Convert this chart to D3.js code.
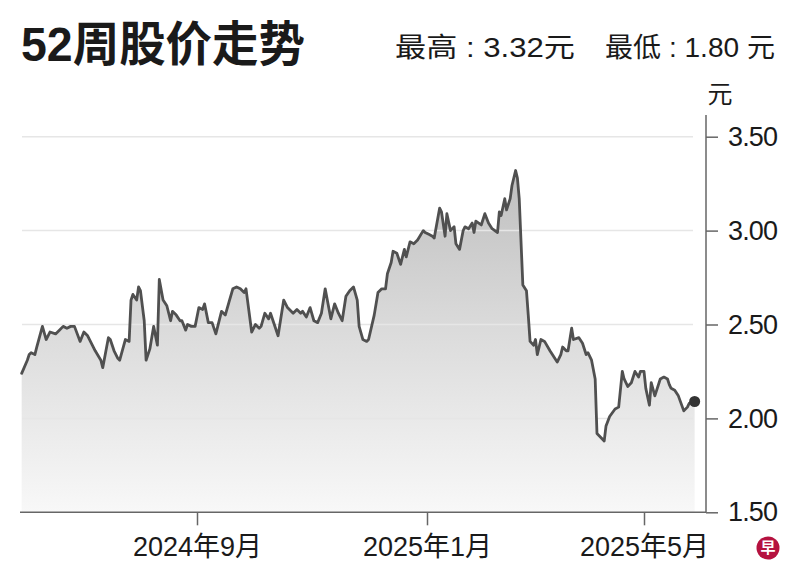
<!DOCTYPE html>
<html><head><meta charset="utf-8">
<script src="https://cdn.jsdelivr.net/npm/d3@7"></script>
<style>
html,body{margin:0;padding:0;background:#fff;}
svg{display:block;}
text{font-family:"Liberation Sans","Noto Sans CJK SC",sans-serif;fill:#1a1a1a;}
</style></head><body>
<svg id="chart" width="800" height="573"></svg>
<script>
const dates = [
"2024-05-31","2024-06-03","2024-06-04","2024-06-05","2024-06-07","2024-06-08","2024-06-11","2024-06-13","2024-06-15","2024-06-18",
"2024-06-20","2024-06-22","2024-06-24","2024-06-26","2024-06-28","2024-07-01","2024-07-03","2024-07-05","2024-07-07","2024-07-09",
"2024-07-12","2024-07-13","2024-07-16","2024-07-17","2024-07-19","2024-07-21","2024-07-22","2024-07-25","2024-07-27","2024-07-28",
"2024-07-29","2024-07-31","2024-08-01","2024-08-02","2024-08-04","2024-08-05","2024-08-07","2024-08-09","2024-08-11","2024-08-12",
"2024-08-14","2024-08-16","2024-08-18","2024-08-19","2024-08-21","2024-08-23","2024-08-24","2024-08-26","2024-08-27","2024-08-29",
"2024-08-31","2024-09-02","2024-09-04","2024-09-05","2024-09-07","2024-09-09","2024-09-11","2024-09-14","2024-09-16","2024-09-18",
"2024-09-20","2024-09-22","2024-09-24","2024-09-26","2024-09-27","2024-09-30","2024-10-02","2024-10-04","2024-10-05","2024-10-07",
"2024-10-09","2024-10-10","2024-10-12","2024-10-14","2024-10-17","2024-10-19","2024-10-22","2024-10-24","2024-10-26","2024-10-27",
"2024-10-29","2024-10-31","2024-11-02","2024-11-04","2024-11-06","2024-11-08","2024-11-11","2024-11-13","2024-11-15","2024-11-17",
"2024-11-19","2024-11-21","2024-11-23","2024-11-25","2024-11-26","2024-11-28","2024-11-30","2024-12-01","2024-12-04","2024-12-06",
"2024-12-08","2024-12-10","2024-12-11","2024-12-13","2024-12-14","2024-12-16","2024-12-17","2024-12-18","2024-12-20","2024-12-21",
"2024-12-23","2024-12-25","2024-12-27","2024-12-30","2024-12-31","2025-01-02","2025-01-04","2025-01-05","2025-01-08","2025-01-09",
"2025-01-11","2025-01-12","2025-01-14","2025-01-16","2025-01-17","2025-01-19","2025-01-21","2025-01-22","2025-01-24","2025-01-26",
"2025-01-27","2025-01-28","2025-01-31","2025-02-02","2025-02-04","2025-02-06","2025-02-09","2025-02-10","2025-02-11","2025-02-13",
"2025-02-14","2025-02-16","2025-02-17","2025-02-19","2025-02-20","2025-02-21","2025-02-23","2025-02-25","2025-02-26","2025-02-27",
"2025-03-01","2025-03-02","2025-03-03","2025-03-05","2025-03-07","2025-03-10","2025-03-14","2025-03-16","2025-03-17","2025-03-19",
"2025-03-20","2025-03-22","2025-03-23","2025-03-26","2025-03-28","2025-03-30","2025-03-31","2025-04-02","2025-04-04","2025-04-05",
"2025-04-07","2025-04-09","2025-04-10","2025-04-12","2025-04-15","2025-04-17","2025-04-19","2025-04-20","2025-04-22","2025-04-24",
"2025-04-26","2025-04-28","2025-04-29","2025-05-01","2025-05-02","2025-05-04","2025-05-05","2025-05-07","2025-05-10","2025-05-12",
"2025-05-14","2025-05-15","2025-05-16","2025-05-18","2025-05-20","2025-05-23","2025-05-25","2025-05-26","2025-05-29"
];
const prices = [
2.24,2.31,2.34,2.35,2.34,2.38,2.49,2.42,2.46,2.45,
2.47,2.49,2.48,2.49,2.49,2.41,2.46,2.44,2.40,2.36,
2.31,2.27,2.43,2.42,2.36,2.32,2.31,2.42,2.41,2.63,
2.66,2.63,2.70,2.68,2.52,2.31,2.37,2.49,2.39,2.74,
2.63,2.60,2.52,2.57,2.55,2.52,2.52,2.47,2.50,2.49,
2.49,2.59,2.58,2.61,2.51,2.51,2.45,2.57,2.55,2.62,
2.69,2.70,2.69,2.67,2.69,2.46,2.50,2.48,2.49,2.56,
2.53,2.56,2.50,2.44,2.63,2.59,2.56,2.58,2.56,2.57,
2.54,2.59,2.52,2.51,2.56,2.69,2.53,2.61,2.56,2.52,
2.65,2.68,2.70,2.63,2.49,2.42,2.41,2.42,2.55,2.67,
2.69,2.69,2.77,2.83,2.89,2.88,2.85,2.82,2.90,2.86,
2.94,2.93,2.95,3.00,2.99,2.98,2.97,2.96,3.12,3.10,
2.97,3.09,3.00,3.02,2.93,2.90,3.00,3.02,3.01,3.04,
2.99,3.05,3.03,3.09,3.04,3.01,2.99,3.10,3.08,3.17,
3.11,3.17,3.24,3.32,3.28,3.17,2.71,2.68,2.55,2.41,
2.39,2.42,2.34,2.42,2.41,2.36,2.30,2.34,2.38,2.36,
2.36,2.48,2.42,2.43,2.40,2.34,2.35,2.31,2.21,1.92,
1.90,1.88,1.96,2.01,2.05,2.06,2.25,2.21,2.17,2.19,
2.25,2.22,2.25,2.25,2.16,2.07,2.19,2.12,2.21,2.22,
2.21,2.18,2.16,2.15,2.12,2.04,2.06,2.08,2.09
];
const yTicks = [1.5, 2.0, 2.5, 3.0, 3.5];
const gridValues = [2.0, 2.5, 3.0, 3.5];
const xTickDates = ["2024-09-01","2025-01-01","2025-05-01"];
const xTickLabels = ["2024年9月","2025年1月","2025年5月"];
const titleText = "52周股价走势";
const highText = "最高 : 3.32元";
const lowText = "最低 : 1.80 元";
const unitText = "元";

const parse = d3.timeParse("%Y-%m-%d");
const data = dates.map((d,i)=>({date:parse(d), value:prices[i]}));

const svg = d3.select("#chart");
const plotLeft = 22, gridRight = 693, axisX = 706, yTop = 136.7, yBottom = 512.3;

const x = d3.scaleTime()
  .domain(xTickDates.map(parse))
  .range([197, 427, 644]);
const y = d3.scaleLinear().domain([1.5, 3.5]).range([yBottom, yTop]);

// gradient
const defs = svg.append("defs");
const grad = defs.append("linearGradient").attr("id","fillGrad")
  .attr("gradientUnits","userSpaceOnUse").attr("x1",0).attr("x2",0)
  .attr("y1", y(3.32)).attr("y2", yBottom);
grad.append("stop").attr("offset","0%").attr("stop-color","#bfbfbf");
grad.append("stop").attr("offset","45%").attr("stop-color","#dadada");
grad.append("stop").attr("offset","100%").attr("stop-color","#f8f8f8");

// area
const area = d3.area().x(d=>x(d.date)).y0(yBottom).y1(d=>y(d.value));
svg.append("path").datum(data).attr("d", area).attr("fill","url(#fillGrad)");

// grid lines
svg.append("g").selectAll("line").data(gridValues).join("line")
  .attr("x1", plotLeft).attr("x2", gridRight)
  .attr("y1", d=>y(d)).attr("y2", d=>y(d))
  .attr("stroke","#e6e6e6").attr("stroke-width",1.5);

// line
const line = d3.line().x(d=>x(d.date)).y(d=>y(d.value));
svg.append("path").datum(data).attr("d", line)
  .attr("fill","none").attr("stroke","#505050").attr("stroke-width",2.8)
  .attr("stroke-linejoin","round").attr("stroke-linecap","round");

// last dot
const last = data[data.length-1];
svg.append("circle").attr("cx", x(last.date)).attr("cy", y(last.value))
  .attr("r", 5.5).attr("fill","#333");

// y axis (right)
const yAxis = d3.axisRight(y).tickValues(yTicks).tickFormat(d3.format(".2f"))
  .tickSize(12).tickPadding(10);
const gy = svg.append("g").attr("transform", `translate(${axisX},0)`).call(yAxis);
gy.select(".domain").attr("d", `M0,${115}V${yBottom}`).attr("stroke","#666").attr("stroke-width",1.5);
gy.selectAll(".tick line").attr("stroke","#666").attr("stroke-width",1.5);
gy.selectAll(".tick text").attr("font-size", 27).attr("fill","#1a1a1a")
  .attr("font-family",'"Liberation Sans",sans-serif').attr("textLength", 50);

// x axis
const xAxis = d3.axisBottom(x).tickValues(xTickDates.map(parse))
  .tickFormat((d,i)=>xTickLabels[i]).tickSize(13).tickPadding(12);
const gx = svg.append("g").attr("transform", `translate(0,${yBottom})`).call(xAxis);
gx.select(".domain").attr("d", `M${plotLeft-2},0H${axisX}`).attr("stroke","#666").attr("stroke-width",1.5);
gx.selectAll(".tick line").attr("stroke","#666").attr("stroke-width",1.5);
gx.selectAll(".tick text").attr("font-size", 27).attr("fill","#1a1a1a")
  .attr("font-family",'"Liberation Sans","Noto Sans CJK SC",sans-serif');

// unit
svg.append("text").attr("x", 720).attr("y", 94).attr("dy","0.35em")
  .attr("text-anchor","middle").attr("font-size",25).text(unitText);

// title
svg.append("text").attr("x", 21).attr("y", 61).attr("font-size", 48)
  .attr("font-weight","bold").attr("textLength", 284).attr("lengthAdjust","spacingAndGlyphs").text(titleText);

svg.append("text").attr("x", 395).attr("y", 57).attr("font-size", 27)
  .attr("textLength", 180).attr("lengthAdjust","spacingAndGlyphs").text(highText);
svg.append("text").attr("x", 605).attr("y", 57).attr("font-size", 27)
  .attr("textLength", 170).attr("lengthAdjust","spacingAndGlyphs").text(lowText);

// logo
const logo = svg.append("g").attr("transform","translate(768,548)");
logo.append("circle").attr("r", 11.5).attr("fill","#b5123f");
logo.append("text").attr("text-anchor","middle").attr("dy","0.36em")
  .attr("font-size",15).attr("font-weight","bold").style("fill","#fff").text("早");
</script>
</body></html>
